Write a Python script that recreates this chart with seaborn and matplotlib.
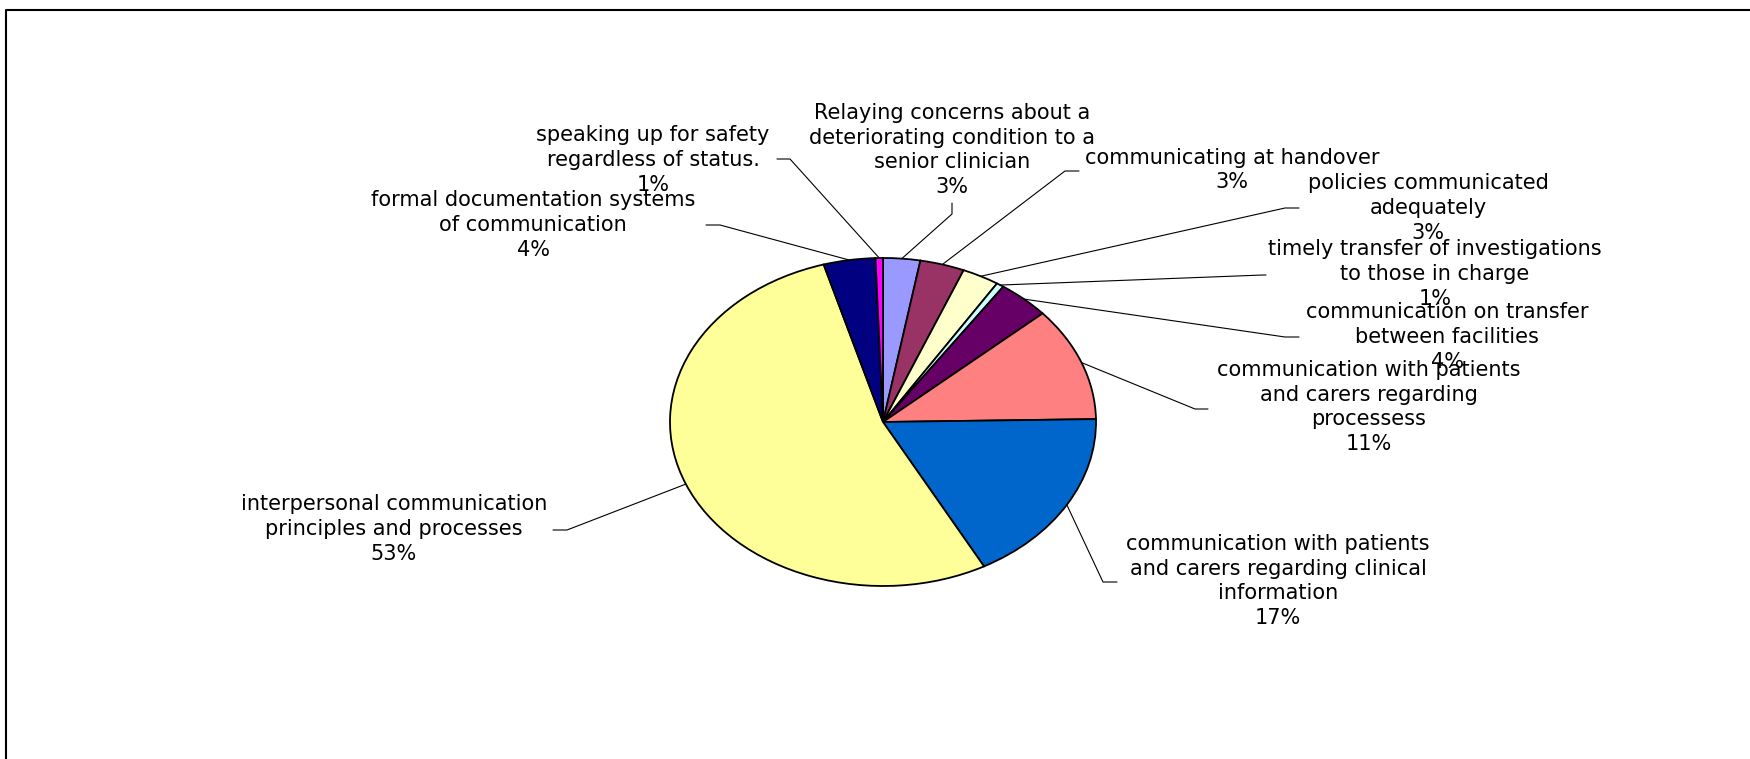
import numpy as np
import pandas as pd
import matplotlib.pyplot as plt
import seaborn as sns

# style / fonts
sns.set_style('white')
plt.rcParams['font.family'] = ['DejaVu Sans']
W, H = 1750, 759

######################################
# data (clockwise from 12 o'clock)
categories = [
    'Relaying concerns about a\ndeteriorating condition to a\nsenior clinician',
    'communicating at handover',
    'policies communicated\nadequately',
    'timely transfer of investigations\nto those in charge',
    'communication on transfer\nbetween facilities',
    'communication with patients\nand carers regarding\nprocessess',
    'communication with patients\nand carers regarding clinical\ninformation',
    'interpersonal communication\nprinciples and processes',
    'formal documentation systems\nof communication',
    'speaking up for safety\nregardless of status.',
]
counts = [5, 6, 5, 1, 7, 20, 31, 95, 7, 1]
colors = ['#9999FF', '#993366', '#FFFFCC', '#CCFFFF', '#660066',
          '#FF8080', '#0066CC', '#FFFF99', '#000080', '#FF00FF']

df = pd.DataFrame({'category': categories, 'count': counts, 'color': colors})
df['pct'] = df['count'] / df['count'].sum()

# layout in pixels: label centre, leader bend point, leader end near label
label_xy = [(952, 150), (1232, 170), (1428, 208), (1435, 274), (1447, 337),
            (1369, 407), (1278, 581), (394, 529), (533, 225), (653, 160)]
bend_xy = [(952, 214), (1065, 171), (1285, 208), (1263, 275), (1285, 337),
           (1195, 409), (1103, 582), (567, 530), (720, 225), (790, 159)]
end_xy = [(952, 203), (1079, 171), (1299, 208), (1266, 275), (1299, 337),
          (1208, 409), (1117, 582), (553, 530), (706, 225), (777, 159)]

# pie geometry (pixels)
cx, cy, rx, ry = 883, 422, 213, 164

fig = plt.figure(figsize=(W / 100, H / 100), dpi=100)
ax_pie = fig.add_axes([(cx - rx) / W, (H - cy - ry) / H, 2 * rx / W, 2 * ry / H])
wedges, _ = ax_pie.pie(
    df['count'], colors=df['color'], startangle=90, counterclock=False,
    wedgeprops={'edgecolor': 'black', 'linewidth': 1.3},
)
ax_pie.set_aspect('auto')
ax_pie.set_xlim(-1, 1)
ax_pie.set_ylim(-1, 1)
ax_pie.axis('off')

# overlay in pixel coords for labels / leaders / frame
ax = fig.add_axes([0, 0, 1, 1])
ax.set_xlim(0, W)
ax.set_ylim(H, 0)
ax.axis('off')

to_px = ax_pie.transData + ax.transData.inverted()
for i, w in enumerate(wedges):
    theta = np.deg2rad((w.theta1 + w.theta2) / 2)
    ex, ey = to_px.transform((np.cos(theta), np.sin(theta)))
    ax.plot([ex, bend_xy[i][0], end_xy[i][0]], [ey, bend_xy[i][1], end_xy[i][1]],
            color='black', lw=0.8)
    txt = f"{df['category'][i]}\n{df['pct'][i]:.0%}"
    ax.text(label_xy[i][0], label_xy[i][1], txt, ha='center', va='center',
            multialignment='center', fontsize=15, linespacing=1.3, color='black')

# frame (cropped, only top and left visible)
ax.plot([6, 6, W], [H, 10, 10], color='black', lw=1.5)

fig.savefig('out.png', dpi=100)
